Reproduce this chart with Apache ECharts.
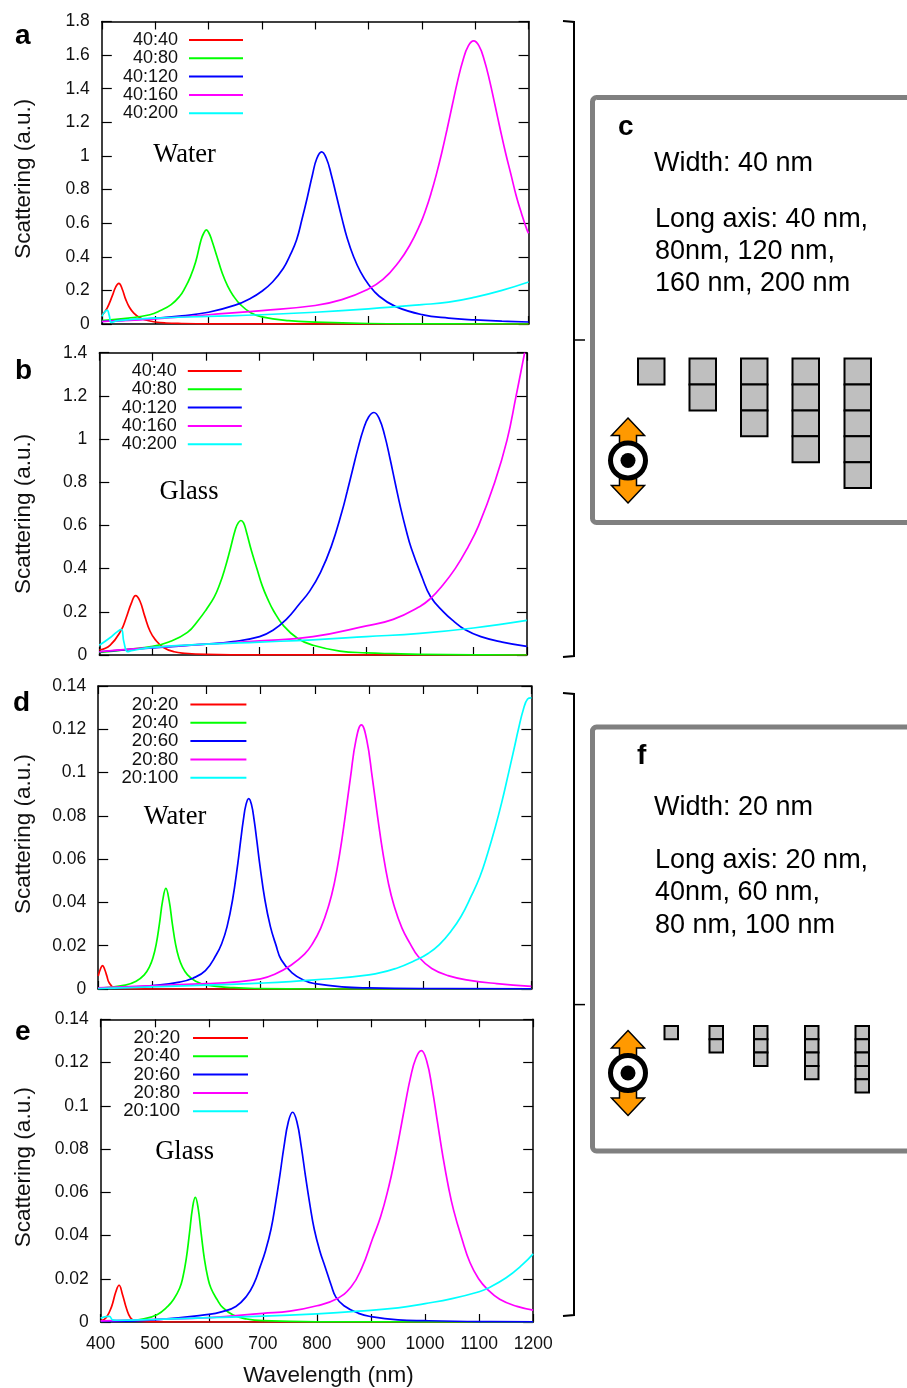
<!DOCTYPE html>
<html><head><meta charset="utf-8">
<style>html,body{margin:0;padding:0;background:#fff}#c{width:907px;height:1388px}</style>
<script src="https://cdn.jsdelivr.net/npm/echarts@6/dist/echarts.min.js"></script>
</head><body><div id="c"></div>
<script>
// Panel a (water, width 40)
const a40 = [[400,.05],[410,.095],[420,.17],[426,.22],[432,.242],[438,.21],[445,.145],[452,.098],[460,.065],[470,.04],[480,.025],[500,.012],[520,.006],[550,.003],[600,.001],[700,.0005],[1200,0]];
const a80 = [[400,.02],[450,.035],[490,.055],[510,.08],[530,.115],[546,.165],[556,.215],[566,.28],[576,.37],[586,.5],[591,.54],[596,.56],[601,.54],[606,.5],[616,.4],[626,.3],[636,.225],[646,.17],[660,.115],[680,.065],[700,.042],[750,.02],[800,.011],[900,.003],[1000,.001],[1200,0]];
const a120 = [[400,.015],[450,.024],[500,.033],[550,.048],[600,.07],[650,.112],[680,.155],[700,.195],[720,.25],[740,.33],[753,.41],[765,.5],[775,.62],[785,.75],[795,.89],[803,.985],[812,1.024],[821,.985],[830,.89],[840,.76],[850,.63],[860,.51],[872,.4],[885,.31],[900,.235],[920,.165],[950,.105],[1000,.056],[1050,.035],[1100,.024],[1150,.017],[1200,.012]];
const a160 = [[400,.015],[500,.03],[600,.055],[700,.08],[800,.11],[850,.145],[897,.204],[927,.265],[957,.371],[977,.467],[997,.596],[1007,.678],[1017,.776],[1027,.889],[1037,1.016],[1047,1.156],[1057,1.303],[1067,1.447],[1077,1.57],[1087,1.655],[1097,1.685],[1107,1.655],[1117,1.57],[1127,1.447],[1137,1.303],[1147,1.156],[1157,1.016],[1167,.889],[1177,.76],[1187,.655],[1197,.56],[1200,.54]];
const a200 = [[400,.045],[405,.07],[410,.083],[414,.05],[418,.01],[430,.02],[500,.035],[600,.045],[700,.055],[800,.07],[900,.09],[1000,.115],[1050,.13],[1100,.16],[1150,.2],[1200,.25]];
// Panel b (glass, width 40)
const b40 = [[400,.023],[420,.045],[441,.115],[450,.17],[460,.24],[468,.275],[476,.25],[485,.18],[495,.11],[505,.07],[520,.035],[540,.015],[560,.008],[600,.003],[700,.0005],[1200,0]];
const b80 = [[400,.012],[450,.025],[500,.04],[530,.06],[565,.105],[585,.16],[600,.21],[615,.268],[625,.325],[635,.4],[645,.49],[655,.585],[660,.612],[665,.623],[670,.612],[675,.573],[685,.48],[695,.4],[705,.32],[715,.26],[726,.205],[745,.135],[772,.075],[800,.045],[850,.018],[900,.01],[950,.006],[1000,.003],[1100,.001],[1200,0]];
const b120 = [[400,.015],[500,.033],[600,.05],[650,.062],[700,.085],[725,.115],[750,.165],[774,.235],[794,.297],[814,.383],[834,.502],[854,.663],[864,.758],[874,.858],[884,.957],[894,1.043],[904,1.102],[914,1.123],[924,1.094],[934,1.017],[944,.91],[954,.793],[964,.68],[974,.58],[984,.493],[1004,.36],[1020,.27],[1044,.2],[1064,.155],[1084,.118],[1114,.085],[1154,.06],[1200,.04]];
const b160 = [[400,.015],[500,.035],[600,.05],[700,.065],[800,.085],[900,.135],[950,.165],[1000,.225],[1020,.262],[1040,.315],[1066,.4],[1090,.5],[1110,.6],[1140,.8],[1163,.995],[1180,1.2],[1196,1.4]];
const b200 = [[400,.045],[420,.08],[432,.105],[441,.119],[446,.06],[453,.015],[460,.02],[500,.035],[600,.05],[700,.06],[800,.07],[900,.085],[1000,.1],[1100,.125],[1200,.16]];
// Panel d (water, width 20)
const d20 = [[400,.006],[405,.0098],[408,.0108],[412,.009],[416,.006],[420,.003],[430,.0005],[440,.0003],[500,0],[1200,0]];
const d40 = [[400,.0003],[450,.0018],[470,.0036],[485,.0065],[495,.0105],[501,.0143],[507,.0205],[513,.03],[519,.0408],[525,.0465],[531,.0408],[537,.03],[543,.0205],[549,.0143],[555,.0105],[565,.0065],[580,.0036],[600,.0018],[650,.0006],[700,.0002],[800,0],[1200,0]];
const d60 = [[400,.0003],[450,.0007],[500,.0016],[550,.0032],[575,.005],[598,.0085],[618,.0158],[628,.0209],[638,.0288],[648,.041],[658,.0583],[663,.0684],[668,.078],[673,.0853],[678,.088],[683,.0853],[688,.078],[693,.0684],[698,.0583],[708,.041],[718,.0288],[728,.0205],[738,.0135],[758,.0075],[782,.0038],[800,.0025],[850,.001],[900,.0005],[1000,.0002],[1200,.0001]];
const d80 = [[400,.0005],[500,.0015],[600,.0025],[650,.0032],[700,.0047],[726,.0068],[756,.011],[781,.0161],[796,.021],[811,.0281],[826,.0388],[836,.0488],[846,.0625],[856,.0795],[866,.098],[876,.115],[886,.122],[896,.115],[906,.098],[916,.0795],[926,.0625],[936,.0488],[946,.0388],[961,.0281],[976,.021],[991,.015],[1016,.0095],[1046,.0062],[1086,.004],[1136,.0025],[1200,.0012]];
const d100 = [[400,.0002],[600,.0018],[700,.0027],[800,.0042],[900,.0065],[950,.0095],[990,.0137],[1010,.0165],[1030,.0205],[1051,.0265],[1070,.0335],[1089,.043],[1105,.052],[1119,.0625],[1133,.0745],[1145,.086],[1158,.1],[1168,.111],[1176,.12],[1185,.129],[1193,.134],[1200,.1345]];
// Panel e (glass, width 20)
const e20 = [[400,.0005],[410,.002],[420,.007],[428,.014],[434,.017],[440,.013],[448,.006],[455,.002],[462,.0007],[480,.0002],[520,0],[1200,0]];
const e40 = [[400,.0003],[450,.0006],[480,.0015],[505,.0035],[524,.0072],[535,.0105],[546,.0156],[552,.0207],[558,.0288],[564,.0406],[570,.053],[575,.0576],[580,.053],[586,.0406],[592,.0288],[598,.0207],[604,.0156],[615,.0105],[626,.0066],[645,.0032],[670,.0014],[700,.0006],[800,.0001],[1200,0]];
const e60 = [[400,.0003],[500,.001],[600,.0035],[625,.0048],[650,.0072],[670,.012],[683,.0175],[695,.0256],[705,.0331],[715,.0429],[723,.0542],[731,.0671],[739,.0811],[747,.0925],[755,.097],[763,.0925],[771,.0811],[779,.0671],[787,.0542],[795,.0429],[805,.0331],[815,.0256],[827,.0165],[835,.0115],[850,.0075],[877,.004],[900,.0025],[950,.001],[1000,.0006],[1100,.0002],[1200,.0001]];
const e80 = [[400,.0005],[500,.0012],[600,.002],[700,.004],[750,.005],[800,.0075],[835,.0105],[863,.0162],[883,.025],[903,.0386],[918,.0489],[933,.0628],[943,.0741],[953,.0869],[963,.1004],[973,.113],[983,.122],[993,.1255],[1003,.1207],[1013,.1082],[1023,.0923],[1033,.0765],[1043,.0628],[1053,.0515],[1068,.0386],[1083,.0275],[1099,.02],[1115,.0152],[1138,.0105],[1170,.0072],[1200,.0055]];
const e100 = [[400,.0018],[410,.0025],[416,.0026],[422,.001],[430,.0008],[500,.0012],[600,.002],[700,.0027],[800,.0038],[877,.005],[950,.0065],[1000,.0085],[1050,.0108],[1100,.014],[1115,.0155],[1150,.0205],[1180,.0265],[1200,.0315]];

const names40 = ['40:40','40:80','40:120','40:160','40:200'];
const names20 = ['20:20','20:40','20:60','20:80','20:100'];
const colours = ['#ff0000','#00ff00','#0000ff','#ff00ff','#00ffff'];
const xRange = [400, 1200];
const xStep = 100;

const panels = [
  {sets:[a40,a80,a120,a160,a200], names:names40, max:1.8, step:.2, l:101.8, r:528.6, t:21.5, b:324, legR:243, legW:54, legT:31, legF:18, legPad:6, legGap:.3, medium:'Water', mx:184.6, my:155.5, letter:'a', lx:15, ly:36, nameShift:12},
  {sets:[b40,b80,b120,b160,b200], names:names40, max:1.4, step:.2, l:99.3, r:526.8, t:352.7, b:655, legR:241.8, legW:54, legT:362, legF:18, legPad:6, legGap:.3, medium:'Glass', mx:189, my:492, letter:'b', lx:15, ly:371, nameShift:20},
  {sets:[d20,d40,d60,d80,d100], names:names20, max:.14, step:.02, l:98.2, r:531.4, t:686, b:989, legR:246.4, legW:56, legT:695, legF:18.6, legPad:7, legGap:-.7, medium:'Water', mx:175, my:817.5, letter:'d', lx:13, ly:703.5, nameShift:-7},
  {sets:[e20,e40,e60,e80,e100], names:names20, max:.14, step:.02, l:100.7, r:533.2, t:1019.3, b:1322.3, legR:248, legW:55, legT:1028.5, legF:18.6, legPad:8, legGap:-.7, medium:'Glass', mx:184.6, my:1152.5, letter:'e', lx:15, ly:1032, nameShift:-7}
];

const FONT = '"Liberation Sans", Arial, sans-serif';
const SERIF = '"Liberation Serif", "Times New Roman", serif';
const grid=[], xAxis=[], yAxis=[], series=[], legend=[], els=[];
const axLine = {show:true, onZero:false, lineStyle:{color:'#000', width:1.5}};

panels.forEach((p,i)=>{
  grid.push({left:p.l, top:p.t, width:p.r-p.l, height:p.b-p.t});
  const last = i===panels.length-1;
  xAxis.push({type:'value', gridIndex:i, position:'bottom', min:xRange[0], max:xRange[1], interval:xStep,
    axisLine:axLine, axisTick:{show:true, inside:true, length:8, lineStyle:{color:'#000',width:1.2}},
    axisLabel:{show:last, margin:13, fontFamily:FONT, fontSize:17.5, color:'#111', formatter:v=>String(v)}, splitLine:{show:false},
    name:last?'Wavelength (nm)':'', nameLocation:'middle', nameGap:42,
    nameTextStyle:{fontFamily:FONT, fontSize:22.5, color:'#111', padding:[0,0,0,23]}});
  xAxis.push({type:'value', gridIndex:i, position:'top', min:xRange[0], max:xRange[1], interval:xStep,
    axisLine:axLine, axisTick:{show:true, inside:true, length:8, lineStyle:{color:'#000',width:1.2}},
    axisLabel:{show:false}, splitLine:{show:false}});
  yAxis.push({type:'value', gridIndex:i, position:'left', min:0, max:p.max, interval:p.step,
    axisLine:axLine, axisTick:{show:true, inside:true, length:10, lineStyle:{color:'#000',width:1.2}},
    axisLabel:{margin:12, fontFamily:FONT, fontSize:17.5, color:'#111'}, splitLine:{show:false},
    name:'Scattering (a.u.)', nameLocation:'middle', nameRotate:90, nameGap:p.l-23-12,
    nameTextStyle:{fontFamily:FONT, fontSize:22.5, color:'#111',
      padding:p.nameShift>0?[0,p.nameShift,0,0]:[0,0,0,-p.nameShift]}});
  yAxis.push({type:'value', gridIndex:i, position:'right', min:0, max:p.max, interval:p.step,
    axisLine:axLine, axisTick:{show:true, inside:true, length:10, lineStyle:{color:'#000',width:1.2}},
    axisLabel:{show:false}, splitLine:{show:false}});
  p.sets.forEach((d,k)=>series.push({type:'line', name:p.names[k], xAxisIndex:i*2, yAxisIndex:i*2, data:d,
    showSymbol:false, symbol:'none', smooth:.45, color:colours[k],
    lineStyle:{color:colours[k], width:1.7}, z:2+k, silent:true}));
  legend.push({data:p.names, orient:'vertical', align:'right', right:907-p.legR, top:p.legT, padding:0,
    itemWidth:p.legW, itemHeight:2, itemGap:p.legGap, icon:'rect', selectedMode:false,
    textStyle:{fontFamily:FONT, fontSize:p.legF, color:'#111', padding:[0,p.legPad,0,0]}});
  els.push({type:'text', style:{text:p.medium, x:p.mx, y:p.my, align:'center', verticalAlign:'middle', font:'26.5px '+SERIF, fill:'#000'}});
  els.push({type:'text', style:{text:p.letter, x:p.lx, y:p.ly, align:'left', verticalAlign:'middle', font:'bold 28px '+FONT, fill:'#000'}});
});

// right-hand schematic annotations
function bracket(top, mid, bot){
  els.push({type:'polyline', shape:{points:[[563,top],[574,top+1],[574,bot-1],[563,bot]]}, style:{stroke:'#000',lineWidth:2,fill:null}});
  els.push({type:'line', shape:{x1:574,y1:mid,x2:585,y2:mid}, style:{stroke:'#000',lineWidth:1.5}});
}
function frame(top, bot){
  els.push({type:'rect', shape:{x:592.5,y:top,width:420,height:bot-top,r:4}, style:{stroke:'#808080',lineWidth:5,fill:'#fff'}});
}
function stack(x, w, top, cell, n){
  for(let i=0;i<n;i++) els.push({type:'rect', shape:{x:x,y:top+i*cell,width:w,height:cell}, style:{fill:'#bfbfbf',stroke:'#000',lineWidth:2}});
}
function icon(cx, cy){
  const arrow = s => [[cx,cy+s*42.5],[cx+16.5,cy+s*25],[cx+8.5,cy+s*25],[cx+8.5,cy+s*15],[cx-8.5,cy+s*15],[cx-8.5,cy+s*25],[cx-16.5,cy+s*25]];
  [-1,1].forEach(s=>els.push({type:'polygon', shape:{points:arrow(s)}, style:{fill:'#ff9900',stroke:'#000',lineWidth:1.5}}));
  els.push({type:'circle', shape:{cx:cx,cy:cy,r:17.5}, style:{fill:'#fff',stroke:'#000',lineWidth:5}});
  els.push({type:'circle', shape:{cx:cx,cy:cy,r:7.5}, style:{fill:'#000'}});
}
function label(t, x, y, font){
  els.push({type:'text', style:{text:t, x:x, y:y, align:'left', verticalAlign:'middle', font:font, fill:'#000'}});
}
const BODY = '27px '+FONT, HEAD = 'bold 28px '+FONT;
bracket(21, 340, 657); frame(97.5, 522.5);
label('c', 618, 127, HEAD);
label('Width: 40 nm', 654, 163.5, BODY);
label('Long axis: 40 nm,', 655, 219.5, BODY);
label('80nm, 120 nm,', 655, 251.5, BODY);
label('160 nm, 200 nm', 655, 284, BODY);
[[638,1],[689.5,2],[741,3],[792.5,4],[844.5,5]].forEach(s=>stack(s[0],26.5,358.6,25.9,s[1]));
icon(628,460.5);

bracket(693, 1004.6, 1316); frame(727, 1151);
label('f', 637, 756, HEAD);
label('Width: 20 nm', 654, 807.5, BODY);
label('Long axis: 20 nm,', 655, 860.5, BODY);
label('40nm, 60 nm,', 655, 892.5, BODY);
label('80 nm, 100 nm', 655, 925.5, BODY);
[[664.5,1],[709.5,2],[754,3],[805,4],[855.5,5]].forEach(s=>stack(s[0],13.5,1026,13.3,s[1]));
icon(628,1073);

const chart = echarts.init(document.getElementById('c'), null, {renderer:'canvas', width:907, height:1388});
chart.setOption({animation:false, backgroundColor:'#fff', textStyle:{fontFamily:FONT},
  grid, xAxis, yAxis, legend, series, graphic:{elements:els}});
</script></body></html>
